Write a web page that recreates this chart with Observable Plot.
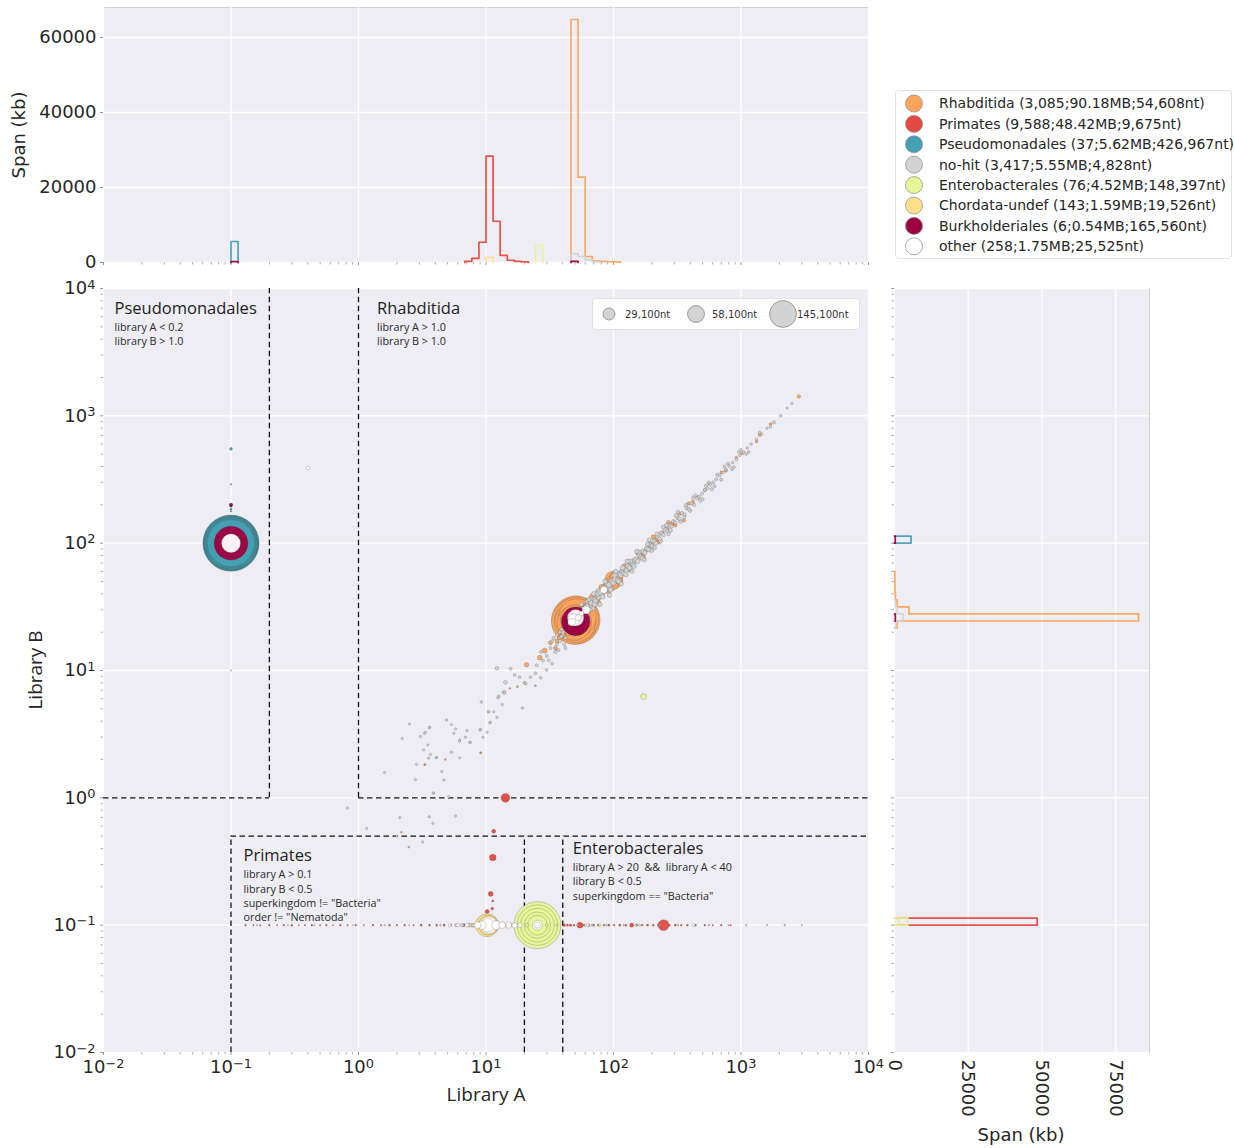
<!DOCTYPE html>
<html><head><meta charset="utf-8">
<script src="https://cdn.jsdelivr.net/npm/d3@7"></script>
<script src="https://cdn.jsdelivr.net/npm/@observablehq/plot@0.6"></script>
<style>
body{margin:0;background:#fff;}
#wrap{position:relative;width:1234px;height:1148px;overflow:hidden;font-family:"DejaVu Sans";color:#262626;}
.lab{position:absolute;white-space:nowrap;color:#262626;}
</style></head><body><div id="wrap"></div>
<script>
// ---------------- DATA ----------------
const taxa = ["Rhabditida","Primates","Pseudomonadales","no-hit","Enterobacterales","Chordata-undef","Burkholderiales","other"];
const taxonColors = ["#fca45c","#e44b40","#46a0b4","#d3d3d3","#e6f598","#fee08b","#9e0142","#ffffff"];
const legendLabels = [
  "Rhabditida (3,085;90.18MB;54,608nt)",
  "Primates (9,588;48.42MB;9,675nt)",
  "Pseudomonadales (37;5.62MB;426,967nt)",
  "no-hit (3,417;5.55MB;4,828nt)",
  "Enterobacterales (76;4.52MB;148,397nt)",
  "Chordata-undef (143;1.59MB;19,526nt)",
  "Burkholderiales (6;0.54MB;165,560nt)",
  "other (258;1.75MB;25,525nt)"
];
const sizeLegendValues = [29100, 58100, 145100];
const sizeLegendLabels = ["29,100nt", "58,100nt", "145,100nt"];
const axisTicksLog = [1e-2, 1e-1, 1, 10, 100, 1000, 1e4];
const topHistTicks = [0, 20000, 40000, 60000];
const rightHistTicks = [0, 25000, 50000, 75000];

// points: [library A, library B, contig length nt]
const pointsRhabditida = [
 [50.7,24.9,473000],[49.5,24.4,430000],[51.6,25.4,390000],[50.2,24.1,340000],[52,26,290000],[49.2,23.6,240000],[50.5,25,190000],[51.2,25.3,140000],[48.5,24.2,100000],[53,26.5,70000],[47,23,50000],
 [100.4,51.5,65000],[96,48,42000],[105,54,30000],[92,47,20000],
 [58,29,14000],[63,31,18000],[66,34,12000],[70,35,9000],[74,37,10000],[79,40,8000],[85,44,15000],[88,43,7000],[110,56,9000],[118,60,7000],[130,64,6000],[140,70,5000],[150,74,4000],[165,82,5000],[180,88,3500],[195,97,6000],[215,106,4000],[240,120,4000],[262,129,3000],[290,143,3000],[330,170,2600],[356,151,2400],[420,212,2000],[520,260,1800],[560,294,1800],[700,360,1500],[760,372,2200],[920,470,1500],[1021,508,2000],[1324,628,1600],[1406,710,2500],[1700,860,1400],[2840,1420,2400],
 [45,22,12000],[42,20.5,8000],[40,19,5000],[55,28,20000],[60,30.5,10000],[38,18,6000],[36,17,3000],[44,19.5,4000],[47,26,9000],
 [68,38,6000],[76,34,5000],[81,45,7000],[91,42,5000],[98,55,6000],[113,52,4500],[122,66,5000],[135,62,4000],[155,84,4000],[172,78,3500],[205,112,3500],[228,102,3000],[270,146,2800],[305,138,2600],[390,205,2200],[460,228,2000],
 [28.9,14.3,5000],[26.4,12.6,4500],[20.8,11.1,4000],[32,16.5,3500],[35,15,3000],[24.4,7.6,800],[17.6,7.47,900],[15.4,7.24,700],[9.1,2.26,700],[4.8,2.0,700],[3.3,1.82,800],[9.06,2.25,600],[3.33,1.83,700],[2.48,0.41,700],[2.17,0.537,600],
 [12,0.1,900],[30,0.1,700]
];
const pointsPrimates = [
 [14.2,1.0,16000],[11.3,0.34,8800],[10.9,0.176,5000],[11.5,0.546,3200],[10.2,0.128,3500],[11.2,0.135,1500],[11.3,0.155,900],
 [0.13,0.1,600],[0.15,0.1,400],[0.17,0.1,500],[0.2,0.1,700],[0.23,0.1,400],[0.26,0.1,600],[0.3,0.1,800],[0.34,0.1,400],[0.38,0.1,500],[0.43,0.1,700],[0.5,0.1,500],[0.56,0.1,600],[0.63,0.1,400],[0.72,0.1,700],[0.82,0.1,500],[0.95,0.1,600],[1.1,0.1,400],[1.3,0.1,700],[1.5,0.1,500],[1.75,0.1,800],[2.0,0.1,600],[2.3,0.1,700],[2.7,0.1,500],[3.1,0.1,900],[3.6,0.1,700],[4.1,0.1,800],[4.7,0.1,1000],[5.3,0.1,900],[6.0,0.1,1200],[6.7,0.1,1500],[7.3,0.1,2000],[7.9,0.1,2500],[8.4,0.1,3000],[8.9,0.1,4000],[9.4,0.1,5000],[9.9,0.1,6000],[10.4,0.1,7000],[10.9,0.1,6000],[11.5,0.1,5000],[12.1,0.1,4000],[12.8,0.1,3500],[13.6,0.1,3000],[14.5,0.1,2500],[15.5,0.1,2000],[16.6,0.1,1500],[17.8,0.1,1200],[19,0.1,1000],
 [41,0.1,1500],[43.5,0.1,1000],[46,0.1,1200],[49,0.1,800],[54.6,0.1,7000],[59,0.1,900],[64,0.1,1200],[70,0.1,800],[76,0.1,1000],[84,0.1,700],[92,0.1,900],[101,0.1,700],[112,0.1,1000],[125,0.1,800],[139,0.1,3500],[152,0.1,900],[168,0.1,700],[185,0.1,1000],[205,0.1,800],[225,0.1,900],[247,0.1,24000],[275,0.1,700],[305,0.1,900],[340,0.1,600],[380,0.1,800],[440,0.1,700],[520,0.1,600],[600,0.1,500],[700,0.1,600],[830,0.1,500]
];
const pointsPseudomonadales = [
 [0.1,100,640000],[0.1,100,615000],[0.1,100,590000],[0.1,100,565000],[0.1,100,540000],[0.1,100,510000],[0.1,100,480000],[0.1,100,450000],
 [0.1,550,1500],[0.1,290,500],[0.1,185,1000],[0.1,178,600]
];
const pointsNoHit = [
 [55,28,6500],[57,27,5500],[58,30,7000],[60,29,6500],[62,31,5500],[63,33,7000],[65,32,6500],[67,34,5500],[68,31,7500],[70,36,6500],[72,35,5500],[74,37,7000],[75,40,5500],[77,38,6500],[79,41,5500],[81,40,7000],[83,43,6500],[85,42,5500],[87,44,7000],[90,45,6500],[92,47,5500],[94,44,6500],[97,50,7000],[100,49,6500],[103,52,5500],[106,55,7000],[108,51,5500],[111,57,6500],[114,56,5500],[117,60,6000],[120,58,5000],[123,63,6000],[126,61,5000],[130,66,6000],[134,64,5000],[138,70,5500],[142,68,4500],[146,73,5500],[150,75,4500],[155,72,4500],[160,80,5000],[165,78,4200],[170,86,4800],[176,84,4000],[182,91,4500],[188,89,3800],[194,97,4200],[200,95,3600],[208,104,4000],[215,100,3400],[222,112,3800],[230,108,3200],[238,120,3600],[246,116,3000],[255,128,3400],[265,124,3000],[275,138,3200],[285,136,2800],[295,148,3000],[305,145,2600],[318,158,3000],[330,155,2600],[345,172,2800],[360,168,2400],[375,188,2600],[390,185,2200],[410,205,2500],[430,200,2200],[450,225,2400],[470,232,2000],[495,245,2200],[520,262,2000],[545,270,2100],[575,288,1900],[605,300,2000],[640,318,1800],[680,340,1900],[720,358,1700],[760,380,1800],[810,402,1700],[860,430,1600],[920,455,1700],[980,490,1500],[1050,520,1600],[1120,560,1400],[1200,600,1500],[1320,655,1300],[1450,720,1400],[1600,800,1300],[1810,890,2200],[2050,1000,1200],[2300,1150,1100],[2500,1250,1200],
 [62,27,5000],[66,36,6000],[71,33,5000],[76,42,6000],[82,38,5000],[89,48,6000],[95,43,5000],[102,56,6000],[110,50,5000],[118,64,5000],[125,57,5000],[135,72,5000],[145,66,4500],[158,85,4500],[168,76,4000],[185,98,4000],[198,88,4000],[220,118,3500],[235,104,3500],[260,138,3000],[280,126,3000],[310,165,3000],[335,148,2800],[370,198,2800],[400,180,2500],[440,236,2500],[480,215,2500],[530,282,2200],[590,265,2200],[650,345,2000],[700,315,2000],[790,420,2000],[880,395,1800],[1000,540,1800],[1150,520,1600],[1400,740,1500],[1700,820,1500],
 [64,25,4000],[70,40,4500],[78,33,4000],[86,50,4500],[93,39,4000],[104,60,4500],[115,48,4000],[128,72,4000],[140,60,3500],[152,86,3500],[175,74,3200],[190,106,3200],[210,92,3000],[245,134,2800],[270,118,2600],[320,176,2400],[360,160,2200],[420,228,2000],[500,222,2000],[560,300,1800],[620,280,1800],[740,400,1600],[850,380,1600],[960,520,1500],[1100,500,1400],
 [20.1,8,1600],[22.3,8.85,1500],[24.4,9.51,1600],[26.8,8.75,1500],[29.8,10.1,1700],[33,11.3,1600],[35,14,2200],[38,17,2600],[40,19,3000],[42,18,2400],[44,21,3000],[46,20,2600],[30,13,2000],[32,15,2200],[36,16,2000],[28,12,1800],[34,18,2200],[39,21,2600],[41,16,2000],[43,23,3000],[45,26,3400],[47,28,3600],[52,30,3400],[56,33,3600],[53,22,3000],[55,25,3400],[58,26,3000],[60,27,2800],[62,35,3400],[64,36,3000],[66,30,2800],
 [25,11,1800],[27,14,1800],[31,12,1800],[37,14.5,2000],[38,20,2200],[42,15,2000],[48,19,2400],[50,21,2800],[36,19,2000],[33,17,1800],
 [45,23,9000],[48,25,7000],[52,24,6000],[55,27,12000],[58,30,8000],[61,31,9000],[64,33,7000],[67,34,6000],[44,21,5000],[42,22,4000],[46,24.5,8000],[53,27,10000],[57,28,6000],[62,32,5000],[40,20,3000],[39,18.5,2500],[50,23,4000],
 [3.35,3.27,1200],[3.62,3.58,1200],[4.9,4.09,1200],[5.36,3.76,1100],[5.6,3.21,1200],[6.23,2.85,1100],[6.9,2.99,1200],[7.46,2.72,1100],[9.06,3.44,1200],[10.2,3.27,1200],[10.8,3.92,1100],[12.6,6.24,1800],[13.8,6.74,2800],[4.5,1.61,1100],[4.67,1.38,1100],[3.89,1.09,1100],[3.25,2.38,1100],[4.09,2.08,1100],[6.23,2.06,1100],[15.6,10.3,1800],[16.8,9.23,1600],[18.3,8.85,1600],[20.1,7.99,1400],
 [9.2,5.66,1500],[10.5,4.73,1200],[12.2,10.4,2800],[14.2,8.07,3000],[19.3,5.08,1500],
 [2.51,3.8,1100],[2.2,2.93,1100],[3.06,3.03,1200],[3.3,3.2,1100],[3.59,3.54,1200],[3.5,2.6,1100],[3.67,2.19,1100],[3.55,2.05,1100],[4.06,2.06,1100],[2.85,1.83,1100],[1.6,1.58,1100],[2.8,1.39,1100],[3.85,1.09,1100],[5.1,1.02,1100],[5.77,3.48,1200],[5.36,2.28,1100],[6.2,2.78,1100],[7.1,3.37,1100],[7.55,2.73,1100],[8.95,3.41,1200],[9.45,2.99,1100],[10.4,4.75,1200],[11.5,4.75,1200],[12.2,4.29,1200],[10.7,3.87,1100],[12.4,6.1,1300],[13.4,5.4,1200],[14,6.74,1300],[20.6,7.85,1300],
 [0.82,0.83,1100],[2.11,0.70,1100],[3.59,0.71,1100],[3.83,0.63,1100],[5.77,0.72,1100],[1.16,0.575,1100],[1.99,0.5,1100],[3.19,0.45,1100],[0.1,10,400],
 [0.16,0.1,500],[0.28,0.1,400],[0.45,0.1,500],[0.9,0.1,400],[1.6,0.1,500],[2.5,0.1,400],[4.4,0.1,700],[5.8,0.1,1500],[6.5,0.1,2500],[7.6,0.1,3000],[13,0.1,2500],[16,0.1,2000],[18.5,0.1,1500],[33,0.1,1500],[38,0.1,1000],[52,0.1,900],[68,0.1,1000],[88,0.1,800],[120,0.1,700],[160,0.1,600],[230,0.1,700],[320,0.1,800],[430,0.1,600],[560,0.1,700],[800,0.1,500],[1100,0.1,600],[1600,0.1,500],[2200,0.1,600],[3000,0.1,400]
];
const pointsEnterobacterales = [
 [25.3,0.1,446000],[25.3,0.1,330000],[25.3,0.1,230000],[25.3,0.1,140000],[25.3,0.1,80000],
 [172,6.24,7000],[99.6,45,900],[21,0.1,2500],[30,0.1,1800],[36,0.1,1200],[60,0.1,1000],[78,0.1,1400],[150,0.1,800]
];
const pointsChordata = [
 [10.2,0.1,107000],[10.4,0.1,80000],[10.6,0.1,50000],[9.5,0.1,8000],[11.8,0.1,6000],[8,0.1,3000],[13.5,0.1,2500],[25,0.1,3000]
];
const pointsBurkholderiales = [
 [0.1,100,232000],[50.5,24.3,165560],[49.5,23.2,100000],[0.1,200,2500],[0.1,196,1200],[48,24,25000]
];
const pointsOther = [
 [0.1,100,73000],[0.4,390,2800],[50.4,25.9,55000],[49,25,30000],[61,29.9,13000],[84,43,10000],[56,28,5000],[47,24,12000],[53,26,8000],
 [10.5,0.1,60000],[10.3,0.1,36000],[8.6,0.1,9000],[9.3,0.1,14000],[12,0.1,16000],[13.4,0.1,10000],[15,0.1,8000],[16.8,0.1,6000],[18.5,0.1,4000],[7.1,0.1,3500],[6,0.1,2500],[5.2,0.1,1800],
 [25.3,0.1,20000],[25.3,0.1,8000],[63,0.1,1500],[424,0.1,1500],[160,0.1,800]
];

// histograms: bins of 1/18 decade; start = index of first bin's lower edge (in 1/18 decades); values = span in kb
const binsPerDecade = 18;
const topHistTaxon = ["Rhabditida","Primates","Pseudomonadales","no-hit","Enterobacterales","Chordata-undef","Burkholderiales","Burkholderiales"];
const topHistStart = [30, 15, -18, 30, 25, 18, -18, 30];
const topHistSpan = [
 [64800, 22750, 1600, 450, 300, 200, 150],
 [300, 1100, 5400, 28350, 11000, 1900, 600, 300, 150],
 [5600],
 [2300, 1600, 700, 250],
 [4530],
 [1400],
 [250],
 [300]
];
const rightHistTaxon = ["other","Primates","Enterobacterales","Chordata-undef","Pseudomonadales","Rhabditida","no-hit","Burkholderiales","Burkholderiales"];
const rightHistStart = [25, -18, -18, -18, 36, 24, 24, 36, 25];
const rightHistSpan = [
 [1200],
 [48400],
 [4520],
 [1500],
 [5600],
 [900, 82800, 4900, 900, 300, 200, 150, 100],
 [400, 2900, 900, 300],
 [250],
 [280]
];

// gating regions (thresholds)
const gateVertA = [0.2, 1, 0.1, 20, 40];
const gateVertB1 = [1, 1, 0.01, 0.01, 0.01];
const gateVertB2 = [1e4, 1e4, 0.5, 0.5, 0.5];
const gateHorB = [1, 1, 0.5];
const gateHorA1 = [0.01, 1, 0.1];
const gateHorA2 = [0.2, 1e4, 1e4];
const regionTitles = ["Pseudomonadales", "Rhabditida", "Primates", "Enterobacterales"];
const regionCornerA = [0.01, 1, 0.1, 40];
const regionCornerB = [1e4, 1e4, 0.5, 0.5];
const regionRules = [
 "library A < 0.2\nlibrary B > 1.0",
 "library A > 1.0\nlibrary B > 1.0",
 "library A > 0.1\nlibrary B < 0.5\nsuperkingdom != \"Bacteria\"\norder != \"Nematoda\"",
 "library A > 20 \u00a0&& \u00a0library A < 40\nlibrary B < 0.5\nsuperkingdom == \"Bacteria\""
];

// ---------------- BUILD ----------------
const wrap = document.getElementById("wrap");
const bg = "#ededf3", frameStroke = "#cfcfd6";
const colorScale = {domain: taxa, range: taxonColors};
const powFmt = d => "10^" + Math.round(Math.log10(d));
const minorTicks = [];
for (let k = -2; k < 4; k++) for (let m = 2; m < 10; m++) minorTicks.push(m * Math.pow(10, k));

function place(el, left, top) { el.style.position = "absolute"; el.style.left = left + "px"; el.style.top = top + "px"; wrap.appendChild(el); }
function superscripts(svg) {
  d3.select(svg).selectAll("text").each(function() {
    const m = /^10\^(-?\d+)$/.exec(this.textContent);
    if (!m) return;
    const t = d3.select(this);
    t.text("10");
    t.append("tspan").attr("dy", "-0.42em").attr("font-size", "0.72em").text(m[1].replace("-", "\u2212"));
  });
}

const groups = [pointsRhabditida, pointsPrimates, pointsPseudomonadales, pointsNoHit, pointsEnterobacterales, pointsChordata, pointsBurkholderiales, pointsOther];
const points = groups.flatMap((arr, i) =>
  arr.map(([a, b, len]) => ({taxon: taxa[i], a, b, len})).sort((p, q) => q.len - p.len));

const gatesV = gateVertA.map((a, i) => ({a, b1: gateVertB1[i], b2: gateVertB2[i]}));
const gatesH = gateHorB.map((b, i) => ({b, a1: gateHorA1[i], a2: gateHorA2[i]}));

const regionOffsets = [
  {dx: 11, dy: 14, rdy: 32},
  {dx: 18.5, dy: 14, rdy: 32},
  {dx: 12.5, dy: 13.5, rdy: 32},
  {dx: 10, dy: 6.5, rdy: 24.5}
];
const regionMarks = regionTitles.flatMap((t, i) => {
  const d = [{a: regionCornerA[i], b: regionCornerB[i], t, r: regionRules[i]}];
  const o = regionOffsets[i];
  return [
    Plot.text(d, {x: "a", y: "b", text: "t", textAnchor: "start", lineAnchor: "top", dx: o.dx, dy: o.dy,
      fontSize: 16.5, fontFamily: "Open Sans", fill: "#1e1e1e"}),
    Plot.text(d, {x: "a", y: "b", text: "r", textAnchor: "start", lineAnchor: "top", dx: o.dx, dy: o.rdy,
      fontSize: 10.8, lineHeight: 1.33, fontFamily: "Open Sans", fill: "#2a2a2a"})
  ];
});

const mainPlot = Plot.plot({
  width: 880, height: 870, marginLeft: 103, marginRight: 12, marginTop: 8, marginBottom: 98,
  style: {background: "transparent", fontFamily: "DejaVu Sans", color: "#262626", overflow: "visible"},
  x: {type: "log", domain: [0.01, 1e4]},
  y: {type: "log", domain: [0.01, 1e4]},
  r: {type: "sqrt", domain: [0, 145100], range: [0, 13.4]},
  color: colorScale,
  marks: [
    Plot.frame({fill: bg, stroke: frameStroke}),
    Plot.gridX({ticks: axisTicksLog, stroke: "#fff", strokeOpacity: 1, strokeWidth: 1.3}),
    Plot.gridY({ticks: axisTicksLog, stroke: "#fff", strokeOpacity: 1, strokeWidth: 1.3}),
    Plot.axisX({ticks: minorTicks, tickSize: 2.5, tickFormat: () => "", label: null, stroke: "#b0b0b0"}),
    Plot.axisY({ticks: minorTicks, tickSize: 2.5, tickFormat: () => "", label: null, stroke: "#b0b0b0"}),
    Plot.axisX({ticks: axisTicksLog, tickSize: 3, tickPadding: 5, tickFormat: powFmt, fontSize: 18, label: null, stroke: "#999"}),
    Plot.axisY({ticks: axisTicksLog, tickSize: 3, tickPadding: 5, tickFormat: powFmt, fontSize: 18, label: null, stroke: "#999"}),
    Plot.ruleX(gatesV, {x: "a", y1: "b1", y2: "b2", stroke: "#111", strokeWidth: 1.3, strokeDasharray: "5.5,3.5"}),
    Plot.ruleY(gatesH, {y: "b", x1: "a1", x2: "a2", stroke: "#111", strokeWidth: 1.3, strokeDasharray: "5.5,3.5"}),
    Plot.dot(points, {x: "a", y: "b", r: "len", fill: "taxon", fillOpacity: 0.95, stroke: "#3a3a3a",
      strokeOpacity: 0.4, strokeWidth: 0.6, sort: null}),
    ...regionMarks
  ]
});
superscripts(mainPlot);
place(mainPlot, 0, 280);

// top histogram
function stepVerts(taxonArr, startArr, spanArr, vertical) {
  const out = [];
  taxonArr.forEach((t, i) => {
    const vals = spanArr[i];
    const e = j => Math.pow(10, (startArr[i] + j) / binsPerDecade);
    const pt = (edge, v) => vertical ? {id: i, taxon: t, x: v, y: edge} : {id: i, taxon: t, x: edge, y: v};
    out.push(pt(e(0), 0));
    vals.forEach((v, j) => { out.push(pt(e(j), v)); out.push(pt(e(j + 1), v)); });
    out.push(pt(e(vals.length), 0));
  });
  return out;
}
const topPlot = Plot.plot({
  width: 880, height: 275, marginLeft: 103, marginRight: 12, marginTop: 7, marginBottom: 13,
  style: {background: "transparent", fontFamily: "DejaVu Sans", color: "#262626"},
  x: {type: "log", domain: [0.01, 1e4]},
  y: {domain: [0, 68000]},
  color: colorScale,
  marks: [
    Plot.frame({fill: bg, stroke: frameStroke}),
    Plot.gridX({ticks: axisTicksLog, stroke: "#fff", strokeOpacity: 1, strokeWidth: 1.3}),
    Plot.gridY({ticks: topHistTicks, stroke: "#fff", strokeOpacity: 1, strokeWidth: 1.3}),
    Plot.axisX({ticks: minorTicks, tickSize: 2.5, tickFormat: () => "", label: null, stroke: "#b0b0b0"}),
    Plot.axisX({ticks: axisTicksLog, tickSize: 3, tickFormat: () => "", label: null, stroke: "#999"}),
    Plot.axisY({ticks: topHistTicks, tickSize: 3, tickPadding: 4, tickFormat: d => String(d), fontSize: 18, label: null, stroke: "#999"}),
    Plot.line(stepVerts(topHistTaxon, topHistStart, topHistSpan, false), {x: "x", y: "y", z: "id", stroke: "taxon", strokeWidth: 1.7, strokeOpacity: 0.95})
  ]
});
place(topPlot, 0, 0);

// right histogram
const rightPlot = Plot.plot({
  width: 354, height: 868, marginLeft: 14, marginRight: 85, marginTop: 8, marginBottom: 96,
  style: {background: "transparent", fontFamily: "DejaVu Sans", color: "#262626", overflow: "visible"},
  x: {domain: [0, 86500]},
  y: {type: "log", domain: [0.01, 1e4]},
  color: colorScale,
  marks: [
    Plot.frame({fill: bg, stroke: frameStroke}),
    Plot.gridX({ticks: rightHistTicks, stroke: "#fff", strokeOpacity: 1, strokeWidth: 1.3}),
    Plot.gridY({ticks: axisTicksLog, stroke: "#fff", strokeOpacity: 1, strokeWidth: 1.3}),
    Plot.axisY({ticks: minorTicks, tickSize: 2.5, tickFormat: () => "", label: null, stroke: "#b0b0b0"}),
    Plot.axisY({ticks: axisTicksLog, tickSize: 3, tickFormat: () => "", label: null, stroke: "#999"}),
    Plot.axisX({ticks: rightHistTicks, tickSize: 0, tickPadding: 7, tickRotate: 90, tickFormat: d => String(d), fontSize: 18, label: null}),
    Plot.line(stepVerts(rightHistTaxon, rightHistStart, rightHistSpan, true), {x: "x", y: "y", z: "id", stroke: "taxon", strokeWidth: 1.7, strokeOpacity: 0.95})
  ]
});
place(rightPlot, 880, 280);

// axis titles
function label(text, cx, cy, rot, font, size) {
  const d = document.createElement("div");
  d.className = "lab"; d.textContent = text;
  d.style.fontFamily = font; d.style.fontSize = size + "px";
  d.style.left = cx + "px"; d.style.top = cy + "px";
  d.style.transform = `translate(-50%,-50%) rotate(${rot}deg)`;
  wrap.appendChild(d);
}
label("Library A", 486, 1094, 0, "Open Sans", 19);
label("Library B", 35, 670, -90, "Open Sans", 19);
label("Span (kb)", 18, 135, -90, "DejaVu Sans", 18);
label("Span (kb)", 1021, 1134, 0, "DejaVu Sans", 18);

// colour legend
const legDiv = document.createElement("div");
legDiv.style.cssText = "width:337px;height:169px;background:#fff;border:1px solid #e0e0e0;border-radius:4px;box-sizing:border-box;";
const legSvg = d3.create("svg").attr("width", 337).attr("height", 169);
taxa.forEach((t, i) => {
  const cy = 12.5 + i * 20.4;
  legSvg.append("circle").attr("cx", 18).attr("cy", cy).attr("r", 8.5)
    .attr("fill", taxonColors[i]).attr("stroke", "#8a8a8a").attr("stroke-width", 0.7);
  legSvg.append("text").attr("x", 43).attr("y", cy).attr("dy", "0.35em")
    .attr("font-family", "DejaVu Sans").attr("font-size", 14).attr("fill", "#262626").text(legendLabels[i]);
});
legDiv.appendChild(legSvg.node());
place(legDiv, 895, 90);

// size legend inside main panel
const rScale = mainPlot.scale("r");
const sizeDiv = document.createElement("div");
sizeDiv.style.cssText = "width:268px;height:32px;background:rgba(255,255,255,0.9);border:1px solid #e2e2e2;border-radius:3px;box-sizing:border-box;";
const sizeSvg = d3.create("svg").attr("width", 268).attr("height", 32).style("overflow", "visible");
const sizeX = [16, 103, 190], textX = [32, 119, 204];
sizeLegendValues.forEach((v, i) => {
  sizeSvg.append("circle").attr("cx", sizeX[i]).attr("cy", 15).attr("r", rScale.apply(v))
    .attr("fill", "#d3d3d3").attr("stroke", "#8a8a8a").attr("stroke-width", 0.8);
  sizeSvg.append("text").attr("x", textX[i]).attr("y", 15).attr("dy", "0.35em")
    .attr("font-family", "DejaVu Sans").attr("font-size", 10).attr("fill", "#333").text(sizeLegendLabels[i]);
});
sizeDiv.appendChild(sizeSvg.node());
place(sizeDiv, 592, 298);
</script>
</body></html>
